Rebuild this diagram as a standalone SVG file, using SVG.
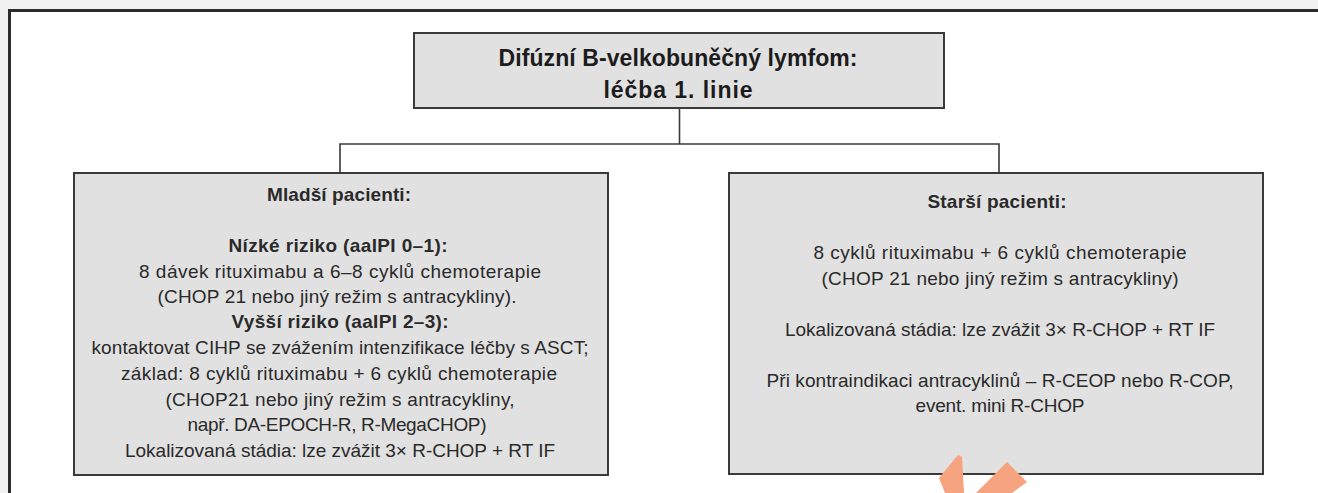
<svg xmlns="http://www.w3.org/2000/svg" width="1318" height="493" viewBox="0 0 1318 493">
  <style>
    .box { fill: #e1e1e1; stroke: #3a3a3a; stroke-width: 2; }
    .link { fill: none; stroke: #3a3a3a; stroke-width: 1.6; }
    .t { font-family: "Liberation Sans", Arial, sans-serif; font-size: 19px; fill: #2a2a2a; text-anchor: middle; }
    .b { font-weight: bold; }
    .title { font-family: "Liberation Sans", Arial, sans-serif; font-size: 23px; font-weight: bold; fill: #1c1c1c; text-anchor: middle; }
  </style>

  <!-- page background and frame -->
  <rect x="0" y="0" width="1318" height="493" fill="#f1f1f1"/>
  <rect x="9.5" y="10.5" width="1320" height="500" fill="#ffffff" stroke="#2b2b2b" stroke-width="3"/>

  <!-- connectors -->
  <g id="connectors">
    <path class="link" d="M679.5 108 V144"/>
    <path class="link" d="M340 173 V144 H999 V173"/>
  </g>

  <!-- root node -->
  <g id="root">
    <rect class="box" x="414" y="33" width="530" height="75"/>
    <text class="title" x="678" y="66" textLength="359" lengthAdjust="spacing">Difúzní B-velkobuněčný lymfom:</text>
    <text class="title" x="678" y="98" textLength="149" lengthAdjust="spacing">léčba 1. linie</text>
  </g>

  <!-- younger patients -->
  <g id="younger">
    <rect class="box" x="74" y="173" width="534" height="302"/>
    <text class="t b" x="339" y="201" textLength="144" lengthAdjust="spacing">Mladší pacienti:</text>
    <text class="t b" x="338" y="252" textLength="219" lengthAdjust="spacing">Nízké riziko (aaIPI 0–1):</text>
    <text class="t" x="340" y="278" textLength="402" lengthAdjust="spacing">8 dávek rituximabu a 6–8 cyklů chemoterapie</text>
    <text class="t" x="337" y="303" textLength="359" lengthAdjust="spacing">(CHOP 21 nebo jiný režim s antracykliny).</text>
    <text class="t b" x="340" y="328" textLength="217" lengthAdjust="spacing">Vyšší riziko (aaIPI 2–3):</text>
    <text class="t" x="340" y="354" textLength="497" lengthAdjust="spacing">kontaktovat CIHP se zvážením intenzifikace léčby s ASCT;</text>
    <text class="t" x="339" y="380" textLength="436" lengthAdjust="spacing">základ: 8 cyklů rituximabu + 6 cyklů chemoterapie</text>
    <text class="t" x="340" y="406" textLength="349" lengthAdjust="spacing">(CHOP21 nebo jiný režim s antracykliny,</text>
    <text class="t" x="337" y="431" textLength="299" lengthAdjust="spacing">např. DA-EPOCH-R, R-MegaCHOP)</text>
    <text class="t" x="340" y="457" textLength="430" lengthAdjust="spacing">Lokalizovaná stádia: lze zvážit 3× R-CHOP + RT IF</text>
  </g>

  <!-- older patients -->
  <g id="older">
    <rect class="box" x="729" y="173" width="534" height="301"/>
    <text class="t b" x="997" y="208" textLength="139" lengthAdjust="spacing">Starší pacienti:</text>
    <text class="t" x="1000" y="259" textLength="373" lengthAdjust="spacing">8 cyklů rituximabu + 6 cyklů chemoterapie</text>
    <text class="t" x="1000" y="285" textLength="357" lengthAdjust="spacing">(CHOP 21 nebo jiný režim s antracykliny)</text>
    <text class="t" x="1000" y="336" textLength="430" lengthAdjust="spacing">Lokalizovaná stádia: lze zvážit 3× R-CHOP + RT IF</text>
    <text class="t" x="1000" y="387" textLength="467" lengthAdjust="spacing">Při kontraindikaci antracyklinů – R-CEOP nebo R-COP,</text>
    <text class="t" x="1000" y="412" textLength="169" lengthAdjust="spacing">event. mini R-CHOP</text>
  </g>

  <!-- orange mark at the lower edge -->
  <g id="mark" fill="#f6a47f">
    <polygon points="958,455 962,457 964,493 945,493 939,478"/>
    <polygon points="1007,462 1027,482 1012,493 976,493"/>
  </g>
</svg>
